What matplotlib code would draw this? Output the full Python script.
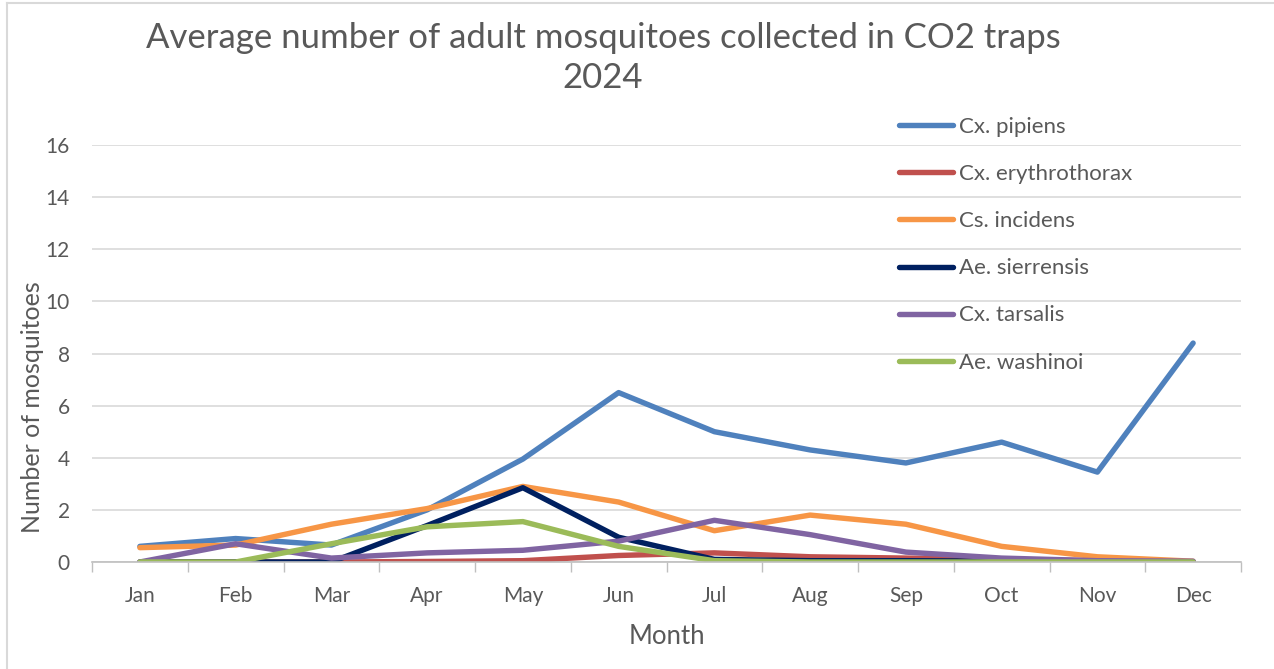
import matplotlib.pyplot as plt
from matplotlib.lines import Line2D

plt.rcParams['font.family'] = ['Lato', 'DejaVu Sans']

months = ["Jan", "Feb", "Mar", "Apr", "May", "Jun",
          "Jul", "Aug", "Sep", "Oct", "Nov", "Dec"]

pipiens = [0.6, 0.9, 0.65, 2.0, 3.95, 6.5, 5.0, 4.3, 3.8, 4.6, 3.45, 8.4]
erythrothorax = [0.0, 0.0, 0.0, 0.02, 0.05, 0.25, 0.35, 0.2, 0.15, 0.1, 0.05, 0.0]
incidens = [0.55, 0.65, 1.45, 2.05, 2.9, 2.3, 1.2, 1.8, 1.45, 0.6, 0.2, 0.03]
sierrensis = [0.0, 0.0, 0.0, 1.4, 2.85, 0.95, 0.1, 0.05, 0.05, 0.03, 0.0, 0.0]
tarsalis = [0.0, 0.7, 0.15, 0.35, 0.45, 0.8, 1.6, 1.05, 0.38, 0.15, 0.05, 0.03]
washinoi = [0.0, 0.0, 0.7, 1.35, 1.55, 0.6, 0.05, 0.0, 0.0, 0.0, 0.0, 0.0]

series = [
    ("Cx. pipiens", pipiens, "#4F81BD"),
    ("Cx. erythrothorax", erythrothorax, "#C0504D"),
    ("Cs. incidens", incidens, "#F79646"),
    ("Ae. sierrensis", sierrensis, "#002060"),
    ("Cx. tarsalis", tarsalis, "#8064A2"),
    ("Ae. washinoi", washinoi, "#9BBB59"),
]

text_color = "#595959"
W, H = 1274, 669

fig = plt.figure(figsize=(W / 100, H / 100), dpi=100)
ax = fig.add_axes([92 / W, 107 / H, 1149 / W, 417 / H])

x = list(range(len(months)))
for name, vals, color in series:
    ax.plot(x, vals, color=color, lw=3.9, label=name,
            solid_joinstyle="round", solid_capstyle="round")

ax.set_xlim(-0.5, 11.5)
ax.set_ylim(0, 16)
ax.set_yticks(range(0, 17, 2))
ax.set_xticks(x)
ax.set_xticklabels(months)
ax.set_xticks([i - 0.5 for i in range(13)], minor=True)
ax.tick_params(axis="x", which="major", length=0, pad=17,
               labelsize=15, labelcolor=text_color)
ax.tick_params(axis="x", which="minor", length=7, color="#bfbfbf", width=1)
ax.tick_params(axis="y", length=0, pad=16, labelsize=15, labelcolor=text_color)

ax.grid(axis="y", color="#d9d9d9", lw=1.2)
ax.set_axisbelow(True)
for side in ["top", "right", "left"]:
    ax.spines[side].set_visible(False)
ax.spines["bottom"].set_color("#bfbfbf")
ax.spines["bottom"].set_linewidth(1.2)

ax.set_xlabel("Month", fontsize=18.5, color=text_color, labelpad=13)
ax.set_ylabel("Number of mosquitoes", fontsize=18, color=text_color, labelpad=1)
ax.yaxis.label.set_y(0.372)

fig.text(603 / W, 1 - 58 / H,
         "Average number of adult mosquitoes collected in CO2 traps\n2024",
         ha="center", va="center", fontsize=25, color=text_color,
         linespacing=1.32)

fig.legend(loc="upper left", bbox_to_anchor=(879 / W, 1 - 97 / H),
           frameon=False, fontsize=16, handlelength=2.45,
           handletextpad=0.25, labelspacing=1.22, labelcolor=text_color)

# chart frame: only the top and left edges fall inside the image
fig.add_artist(Line2D([7 / W, 1], [1 - 3 / H, 1 - 3 / H], transform=fig.transFigure,
                      color="#d9d9d9", lw=1.5))
fig.add_artist(Line2D([7 / W, 7 / W], [0, 1 - 3 / H], transform=fig.transFigure,
                      color="#d9d9d9", lw=1.5))

fig.savefig("out.png", dpi=100)
